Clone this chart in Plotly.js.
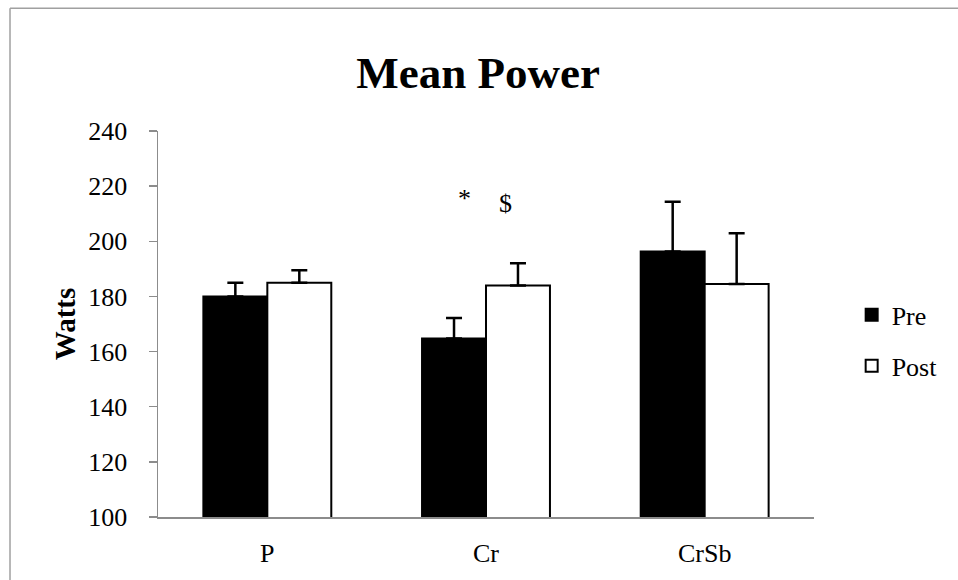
<!DOCTYPE html>
<html>
<head>
<meta charset="utf-8">
<script src="https://cdn.plot.ly/plotly-3.0.1.min.js"></script>
<style>
html,body{margin:0;padding:0;background:#fff;}
#chart{width:958px;height:580px;}
</style>
</head>
<body>
<div id="chart"></div>
<script>
const categories = ["P", "Cr", "CrSb"];
const preValues = [180, 164.7, 196.3];
const preErrors = [5, 7.5, 18];
const postValues = [185, 184, 184.5];
const postErrors = [4.5, 8, 18.4];
const yTicks = [100, 120, 140, 160, 180, 200, 220, 240];
const markText = ["*", "$"];
const markX = [0.9, 1.09];
const markY = [215.6, 213.8];

const serif = "Liberation Serif, Times New Roman, serif";

const traces = [
  {
    type: "bar", name: "Pre", x: categories, y: preValues,
    legendgroup: "pre",
    marker: {color: "#000000", line: {color: "#000000", width: 2}},
    error_y: {type: "data", array: preErrors, arrayminus: [0,0,0], symmetric: false,
              color: "#000000", thickness: 2.5, width: 8}
  },
  {
    type: "bar", name: "Post", x: categories, y: postValues,
    legendgroup: "post",
    marker: {color: "#ffffff", line: {color: "#000000", width: 2}},
    error_y: {type: "data", array: postErrors, arrayminus: [0,0,0], symmetric: false,
              color: "#000000", thickness: 2.5, width: 8}
  }
];

const annotations = markText.map((t, i) => ({
  x: markX[i], y: markY[i], xref: "x", yref: "y", text: t, showarrow: false,
  font: {family: serif, size: 26, color: "#000"}
}));

const layout = {
  width: 958, height: 580,
  margin: {l: 158, r: 144, t: 131, b: 63, pad: 0, autoexpand: false},
  paper_bgcolor: "#fff", plot_bgcolor: "#fff",
  barmode: "group", bargap: 0.415, bargroupgap: 0,
  title: {text: "<b>Mean Power</b>", font: {family: serif, size: 45, color: "#000"},
          xref: "paper", x: 0.488, xanchor: "center", yref: "container", y: 0.875, yanchor: "middle"},
  xaxis: {
    type: "category", showline: true, linecolor: "#8c8c8c", linewidth: 1.5,
    ticks: "", showgrid: false, zeroline: false, automargin: false,
    tickfont: {family: serif, size: 26, color: "#000"},
    ticklabelstandoff: 12
  },
  yaxis: {
    range: [100, 240], tickvals: yTicks, ticktext: yTicks.map(String),
    showline: true, linecolor: "#8c8c8c", linewidth: 1.5, automargin: false,
    ticks: "outside", ticklen: 8, tickcolor: "#8c8c8c", tickwidth: 1.5,
    showgrid: false, zeroline: false,
    tickfont: {family: serif, size: 26, color: "#000"},
    ticklabelstandoff: 16,
    title: {text: "<b>Watts</b>", font: {family: serif, size: 29, color: "#000"}, standoff: 4}
  },
  showlegend: true,
  legend: {xref: "container", yref: "container", x: 0.889, xanchor: "left", y: 0.413, yanchor: "middle",
           font: {family: serif, size: 26, color: "#000"},
           tracegroupgap: 14, bgcolor: "rgba(0,0,0,0)", itemwidth: 30},
  annotations: annotations,
  shapes: [
    {type: "line", xref: "paper", yref: "paper", x0: -0.2256, x1: 1.25, y0: 1.318, y1: 1.318,
     line: {color: "#a0a0a0", width: 1.5}},
    {type: "line", xref: "paper", yref: "paper", x0: -0.2256, x1: -0.2256, y0: 1.318, y1: -0.2,
     line: {color: "#a0a0a0", width: 1.5}}
  ]
};

Plotly.newPlot("chart", traces, layout, {displayModeBar: false, staticPlot: true});
</script>
</body>
</html>
